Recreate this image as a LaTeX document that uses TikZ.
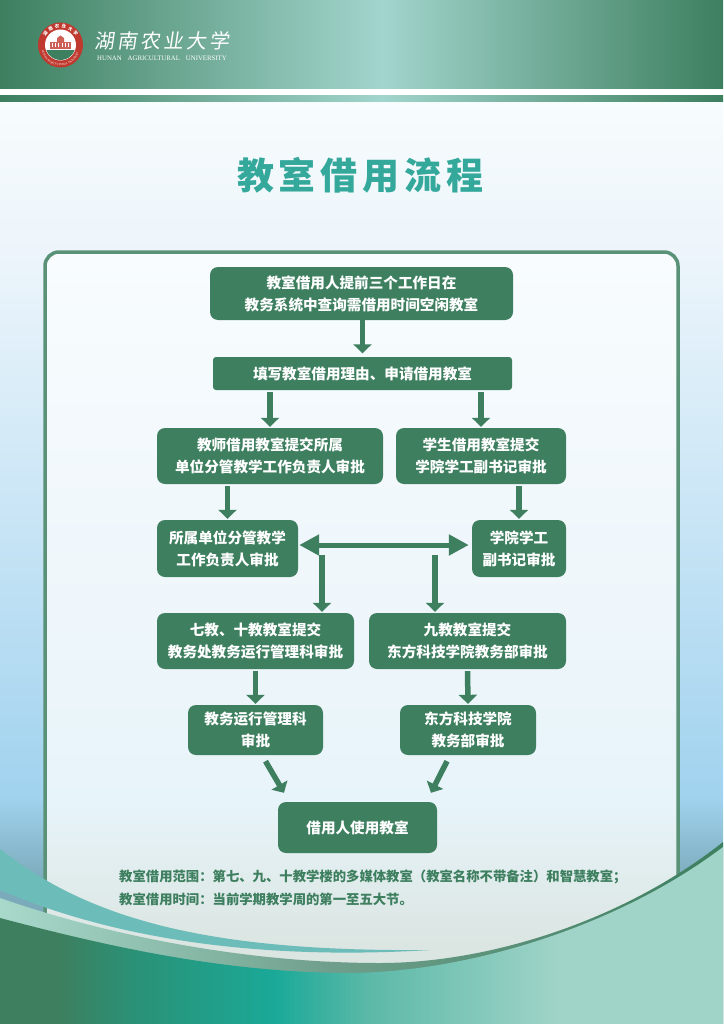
\documentclass[tikz,border=0pt]{standalone}
\usepackage{fontspec}
\usetikzlibrary{arrows.meta,calc,decorations.text}
\setmainfont{Noto Sans CJK SC}
\newfontfamily\logofont[FakeSlant=0.15]{Noto Sans CJK SC}
\newfontfamily\latinserif{Liberation Serif}
\definecolor{hgreen}{HTML}{3D7F5F}
\definecolor{hlight}{HTML}{A2D5CD}
\definecolor{titleteal}{HTML}{35A89C}
\definecolor{sealred}{HTML}{C0392E}
\definecolor{swoosh}{HTML}{6CBDB9}
\definecolor{bga}{HTML}{7BAABA}
\definecolor{bgb}{HTML}{A0D2EE}
\definecolor{bgc}{HTML}{CBE6F6}
\definecolor{bgd}{HTML}{EDF5FB}
\definecolor{bge}{HTML}{F7FCFD}
\definecolor{pa}{HTML}{DBE5E2}
\definecolor{pb}{HTML}{E7F4F9}
\definecolor{pc}{HTML}{EEF6FB}
\definecolor{pd}{HTML}{F8FCFE}
\definecolor{fa}{HTML}{2A9277}
\definecolor{fb}{HTML}{1AA998}
\definecolor{fc}{HTML}{5DB9A8}
\definecolor{fd}{HTML}{A0D4C8}
\definecolor{ra}{HTML}{A8D9CB}
\definecolor{rb}{HTML}{8FBFAE}
\definecolor{rc}{HTML}{6F9F8C}
\pgfdeclarehorizontalshading{hdrshade}{100bp}{color(0bp)=(hgreen); color(25bp)=(hgreen); color(51.4bp)=(hlight); color(75bp)=(hgreen); color(100bp)=(hgreen)}
\pgfdeclareverticalshading{bgshade}{100bp}{color(0bp)=(bga); color(32bp)=(bga); color(36bp)=(bgb); color(50.6bp)=(bgc); color(62.8bp)=(bgd); color(70bp)=(bge); color(100bp)=(bge)}
\pgfdeclareverticalshading{panelshade}{100bp}{color(0bp)=(pa); color(27bp)=(pa); color(37bp)=(pb); color(50bp)=(pc); color(75bp)=(pd); color(100bp)=(pd)}
\pgfdeclarehorizontalshading{fillshade}{100bp}{color(0bp)=(hgreen); color(25bp)=(hgreen); color(29bp)=(hgreen); color(34.5bp)=(fa); color(44bp)=(fb); color(50.6bp)=(fc); color(63.7bp)=(fd); color(100bp)=(fd)}
\pgfdeclarehorizontalshading{rimshade}{100bp}{color(0bp)=(ra); color(25bp)=(ra); color(35.4bp)=(rb); color(47.8bp)=(rc); color(75bp)=(hgreen); color(100bp)=(hgreen)}
\tikzset{
  flowbox/.style={draw=none,fill=hgreen,rounded corners=8pt,inner sep=0pt,align=center,text=white,font=\fontsize{14.6}{22}\selectfont\bfseries},
  flowarrow/.style={draw=hgreen,line width=5.5pt,-{Triangle[width=18pt,length=9pt,fill=hgreen]},shorten <=2pt,shorten >=1pt},
  bigarrow/.style={draw=hgreen,line width=5pt,{Triangle[width=20pt,length=20pt,fill=hgreen]}-{Triangle[width=20pt,length=20pt,fill=hgreen]},shorten <=1pt,shorten >=3pt},
  note/.style={anchor=west,inner sep=0pt,text=hgreen,font=\fontsize{13.35}{16}\selectfont\bfseries},
}
\begin{document}
\begin{tikzpicture}[x=1pt,y=-1pt]
\useasboundingbox (0,0) rectangle (723,1024);
% background
\shade[shading=bgshade] (0,0) rectangle (723,1024);
\shade[shading=hdrshade] (0,0) rectangle (723,89);
\fill[white] (0,89) rectangle (723,96);
\shade[shading=hdrshade] (0,96) rectangle (723,102);
% logo
\fill[sealred] (60.5,45) circle (22.5);
\fill[white] (60.5,45) circle (15.5);
\begin{scope}
\clip (60.5,45) circle (15);
\fill[hgreen] (44,50.5) rectangle (77,62);
\end{scope}
\fill[sealred!80!white] (50,42) rectangle (71,49);
\fill[sealred!80!white] (57,38) -- (60.5,35.5) -- (64,38) -- (64,42) -- (57,42) -- cycle;
\foreach \xx in {52,55,58,62,65,68}{\fill[white] (\xx,43.5) rectangle (\xx+1.4,47);}
\foreach \c/\a [count=\i] in {湖/142.5,南/121.5,农/100.5,业/79.5,大/58.5,学/37.5}{
  \node[inner sep=0pt,text=white,rotate=\a-90,font=\fontsize{4.5}{5}\selectfont\bfseries] (ring\i) at ($(60.5,45)+(\a:19 and -19)$) {\c};
}
\path[decorate,decoration={text along path,text align=center,text={|\latinserif\fontsize{2.9}{3}\selectfont\color{white}|HUNAN AGRICULTURAL UNIVERSITY}}] (42.5,53) .. controls (48,70) and (73,70) .. (78.5,53);
\node[anchor=center,inner sep=0pt,text=white] (logocn) at (162,41) {\logofont\fontsize{20}{20}\selectfont 湖\hspace{3pt}南\hspace{3pt}农\hspace{3pt}业\hspace{3pt}大\hspace{3pt}学};
\node[anchor=center,inner sep=0pt,text=white] (logoen) at (162,58) {\latinserif\fontsize{6.8}{7}\selectfont HUNAN\hspace{6pt}AGRICULTURAL\hspace{6pt}UNIVERSITY};
% title
\node[inner sep=0pt,text=titleteal,font=\fontsize{37}{40}\selectfont\bfseries] (title) at (360.5,175) {教\hspace{5pt}室\hspace{5pt}借\hspace{5pt}用\hspace{5pt}流\hspace{5pt}程};
% panel
\shade[shading=panelshade,rounded corners=14pt] (45,252) rectangle (678,975);
\draw[draw=hgreen!85!white,line width=3.5pt,rounded corners=14pt] (45,975) -- (45,252) -- (678,252) -- (678,975);
% flow nodes
\node[flowbox,minimum width=303pt,minimum height=53pt] (n1) at (361.5,293.5) {教室借用人提前三个工作日在\\教务系统中查询需借用时间空闲教室};
\node[flowbox,rounded corners=3pt,minimum width=299pt,minimum height=33pt] (n2) at (362.5,373.5) {填写教室借用理由、申请借用教室};
\node[flowbox,minimum width=226pt,minimum height=56pt] (n3) at (270,456) {教师借用教室提交所属\\单位分管教学工作负责人审批};
\node[flowbox,minimum width=170pt,minimum height=56pt] (n4) at (481,456) {学生借用教室提交\\学院学工副书记审批};
\node[flowbox,minimum width=141pt,minimum height=57pt] (n5) at (227.5,548.5) {所属单位分管教学\\工作负责人审批};
\node[flowbox,minimum width=94pt,minimum height=57pt] (n6) at (519,548.5) {学院学工\\副书记审批};
\node[flowbox,minimum width=197pt,minimum height=56pt] (n7) at (255.5,641) {七教、十教教室提交\\教务处教务运行管理科审批};
\node[flowbox,minimum width=197pt,minimum height=56pt] (n8) at (467.5,641) {九教教室提交\\东方科技学院教务部审批};
\node[flowbox,minimum width=135pt,minimum height=50pt] (n9) at (255.5,730) {教务运行管理科\\审批};
\node[flowbox,minimum width=136pt,minimum height=50pt] (n10) at (468,730) {东方科技学院\\教务部审批};
\node[flowbox,minimum width=159pt,minimum height=51pt] (n11) at (357.5,827.5) {借用人使用教室};
% connectors
\draw[flowarrow,shorten <=0pt,shorten >=3.5pt] (n1.south -| n2.north) -- (n2.north);
\draw[flowarrow] (n3.north |- n2.south) -- (n3.north);
\draw[flowarrow] (n4.north |- n2.south) -- (n4.north);
\draw[flowarrow] (n5.north |- n3.south) -- (n5.north);
\draw[flowarrow] (n6.north |- n4.south) -- (n6.north);
\draw[bigarrow] ([yshift=3.5pt]n5.east) -- ([yshift=3.5pt]n6.west);
\coordinate (j1) at (322,555);
\coordinate (j2) at (435,555);
\draw[flowarrow,shorten <=0pt] (j1) -- (j1 |- n7.north);
\draw[flowarrow,shorten <=0pt] (j2) -- (j2 |- n8.north);
\draw[flowarrow] (n7.south) -- (n9.north);
\draw[flowarrow] (n8.south) -- (n10.north);
\draw[flowarrow,shorten <=0pt,shorten >=0pt] ([xshift=10pt,yshift=-6pt]n9.south) -- ([xshift=-73.5pt,yshift=9pt]n11.north);
\draw[flowarrow,shorten <=0pt,shorten >=0pt] ([xshift=-21pt,yshift=-6pt]n10.south) -- ([xshift=73.5pt,yshift=9pt]n11.north);
% notes
\node[note] (note1) at (119,877) {教室借用范围：第七、九、十教学楼的多媒体教室（教室名称不带备注）和智慧教室；};
\node[note] (note2) at (119,899) {教室借用时间：当前学期教学周的第一至五大节。};
% bottom waves
\fill[swoosh] (0,849) .. controls (90,920) and (210,952) .. (430,950) .. controls (300,958) and (140,950) .. (0,890) -- cycle;
\shade[shading=rimshade] (0,898) .. controls (100,933) and (240,963) .. (380,963) .. controls (490,963) and (625,920) .. (723,842) -- (723,1024) -- (0,1024) -- cycle;
\shade[shading=fillshade] (0,918) .. controls (95,943) and (215,972) .. (345,973) .. controls (470,973) and (620,925) .. (723,847) -- (723,1024) -- (0,1024) -- cycle;
\end{tikzpicture}
\end{document}
